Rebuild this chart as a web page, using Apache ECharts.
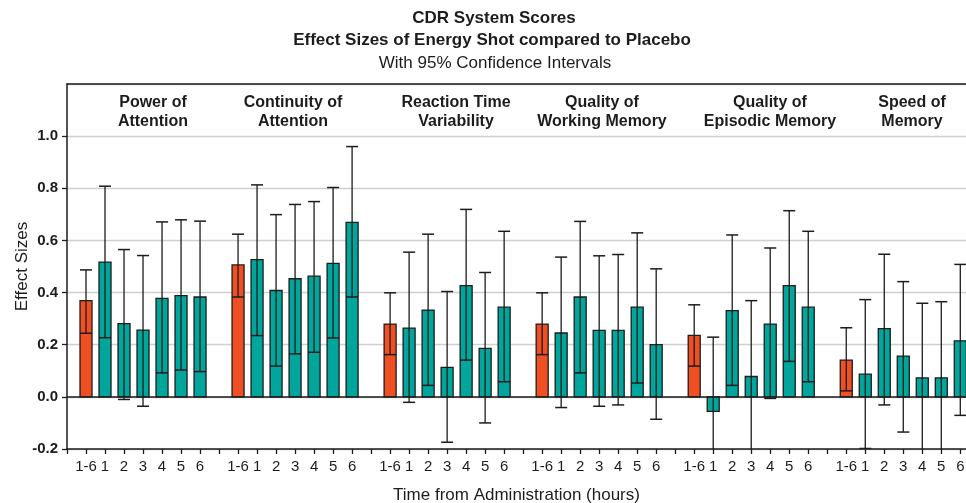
<!DOCTYPE html>
<html><head><meta charset="utf-8">
<script src="https://cdn.jsdelivr.net/npm/echarts@6/dist/echarts.min.js"></script>
<style>html,body{margin:0;padding:0;background:#fff}#c{width:966px;height:503px}</style>
</head><body><div id="c"></div>
<script>
// ---- data ----
const timeLabels = ['1-6', '1', '2', '3', '4', '5', '6'];
const groupNames = ['Power of\nAttention', 'Continuity of\nAttention', 'Reaction Time\nVariability',
  'Quality of\nWorking Memory', 'Quality of\nEpisodic Memory', 'Speed of\nMemory'];

const powerEffect   = [0.369, 0.517, 0.281, 0.256, 0.378, 0.388, 0.383];
const powerLower    = [0.244, 0.227, -0.010, -0.036, 0.092, 0.103, 0.097];
const powerUpper    = [0.487, 0.808, 0.565, 0.542, 0.671, 0.679, 0.674];

const continuityEffect = [0.506, 0.526, 0.408, 0.453, 0.463, 0.512, 0.669];
const continuityLower  = [0.383, 0.235, 0.118, 0.165, 0.171, 0.226, 0.383];
const continuityUpper  = [0.624, 0.813, 0.699, 0.738, 0.749, 0.803, 0.960];

const reactionEffect = [0.279, 0.264, 0.333, 0.113, 0.427, 0.186, 0.344];
const reactionLower  = [0.162, -0.021, 0.044, -0.174, 0.141, -0.100, 0.058];
const reactionUpper  = [0.399, 0.555, 0.624, 0.404, 0.719, 0.477, 0.635];

const workingEffect = [0.279, 0.245, 0.383, 0.255, 0.255, 0.344, 0.200];
const workingLower  = [0.162, -0.041, 0.092, -0.036, -0.031, 0.053, -0.086];
const workingUpper  = [0.399, 0.536, 0.673, 0.541, 0.546, 0.629, 0.491];

const episodicEffect = [0.236, -0.056, 0.331, 0.078, 0.279, 0.427, 0.344];
const episodicLower  = [0.118, -0.341, 0.044, -0.213, -0.006, 0.136, 0.058];
const episodicUpper  = [0.353, 0.229, 0.621, 0.369, 0.571, 0.714, 0.635];

const speedEffect = [0.141, 0.087, 0.262, 0.156, 0.073, 0.073, 0.215];
const speedLower  = [0.023, -0.198, -0.031, -0.135, -0.213, -0.219, -0.071];
const speedUpper  = [0.265, 0.373, 0.547, 0.442, 0.359, 0.365, 0.508];

const yTicks = [-0.2, 0.0, 0.2, 0.4, 0.6, 0.8, 1.0];

// ---- build ----
const effects = [powerEffect, continuityEffect, reactionEffect, workingEffect, episodicEffect, speedEffect];
const lowers = [powerLower, continuityLower, reactionLower, workingLower, episodicLower, speedLower];
const uppers = [powerUpper, continuityUpper, reactionUpper, workingUpper, episodicUpper, speedUpper];
const slot = timeLabels.length + 1;
const data = [];
effects.forEach((arr, g) => arr.forEach((v, i) => {
  data.push([g * slot + i + 1, v, lowers[g][i], uppers[g][i], i === 0 ? 1 : 0]);
}));
const xMax = 47.3;

const ORANGE = '#F04E23', TEAL = '#00A59B', INK = '#1c1c1c';
const FONT = '"Liberation Sans", Arial, Helvetica, sans-serif';

const chart = echarts.init(document.getElementById('c'), null, {renderer: 'canvas'});

const labelCenters = [153, 293, 456, 602, 770, 912];
const graphics = [
  {type: 'text', x: 494, y: 18, style: {text: 'CDR System Scores', font: 'bold 17px ' + FONT, fill: INK, align: 'center', verticalAlign: 'middle'}},
  {type: 'text', x: 492, y: 40, style: {text: 'Effect Sizes of Energy Shot compared to Placebo', font: 'bold 17px ' + FONT, fill: INK, align: 'center', verticalAlign: 'middle'}},
  {type: 'text', x: 495, y: 63, style: {text: 'With 95% Confidence Intervals', font: '17px ' + FONT, fill: INK, align: 'center', verticalAlign: 'middle'}}
];
groupNames.forEach((n, g) => graphics.push({
  type: 'text', x: labelCenters[g], y: 112,
  style: {text: n, font: 'bold 16px ' + FONT, fill: INK, align: 'center', verticalAlign: 'middle', lineHeight: 19}
}));

chart.setOption({
  animation: false,
  backgroundColor: '#fff',
  grid: {left: 67, right: 0, top: 84, bottom: 54, containLabel: false, outerBoundsMode: 'none'},
  graphic: graphics,
  xAxis: [{
    type: 'value', min: 0, max: xMax, interval: 1,
    name: 'Time from Administration (hours)', nameLocation: 'middle', nameGap: 38, nameMoveOverlap: false,
    nameTextStyle: {fontFamily: FONT, fontSize: 17, color: INK},
    axisLine: {show: true, onZero: false, lineStyle: {color: INK, width: 1.5}},
    axisTick: {show: true, length: 5, lineStyle: {color: INK, width: 1.3}},
    axisLabel: {
      fontFamily: FONT, fontSize: 15, color: INK, margin: 10, showMaxLabel: false, showMinLabel: true,
      hideOverlap: false,
      formatter: v => {
        if (Math.abs(v - Math.round(v)) > 1e-6) return '';
        const m = Math.round(v) % slot;
        return m === 0 ? '' : timeLabels[m - 1];
      }
    },
    splitLine: {show: false}
  }, {
    type: 'value', position: 'top', min: 0, max: xMax,
    axisLine: {show: true, onZero: false, lineStyle: {color: INK, width: 1.5}},
    axisTick: {show: false}, axisLabel: {show: false}, splitLine: {show: false}
  }],
  yAxis: {
    type: 'value', min: -0.2, max: 1.2, interval: 0.2,
    name: 'Effect Sizes', nameLocation: 'middle', nameGap: 36, nameMoveOverlap: false,
    nameTextStyle: {fontFamily: FONT, fontSize: 17, color: INK},
    axisLine: {show: true, onZero: false, lineStyle: {color: INK, width: 1.5}},
    axisTick: {show: true, length: 5, lineStyle: {color: INK, width: 1.3}},
    axisLabel: {
      fontFamily: FONT, fontSize: 15, fontWeight: 'bold', color: INK, margin: 9, showMaxLabel: false,
      formatter: v => {
        const t = yTicks.find(k => Math.abs(k - v) < 1e-6);
        return t === undefined ? '' : t.toFixed(1);
      }
    },
    splitLine: {show: true, lineStyle: {color: '#cfcfcf', width: 1.3}}
  },
  series: [{
    type: 'custom',
    xAxisIndex: 0,
    data: data,
    renderItem: (params, api) => {
      const x = api.value(0), v = api.value(1), lo = api.value(2), hi = api.value(3), overall = api.value(4);
      const base = api.coord([x, 0]);
      const top = api.coord([x, v]);
      const pLo = api.coord([x, lo]);
      const pHi = api.coord([x, hi]);
      const w = 12, cw = 12;
      const cs = params.coordSys;
      return {
        type: 'group',
        clipPath: {type: 'rect', shape: {x: cs.x, y: cs.y, width: cs.width, height: cs.height}},
        children: [
          {type: 'rect', shape: {x: base[0] - w / 2, y: Math.min(top[1], base[1]), width: w, height: Math.abs(base[1] - top[1])},
            style: {fill: overall ? ORANGE : TEAL, stroke: INK, lineWidth: 1.3}},
          {type: 'line', shape: {x1: pLo[0], y1: pLo[1], x2: pHi[0], y2: pHi[1]}, style: {stroke: INK, lineWidth: 1.3}},
          {type: 'line', shape: {x1: pHi[0] - cw / 2, y1: pHi[1], x2: pHi[0] + cw / 2, y2: pHi[1]}, style: {stroke: INK, lineWidth: 1.5}},
          {type: 'line', shape: {x1: pLo[0] - cw / 2, y1: pLo[1], x2: pLo[0] + cw / 2, y2: pLo[1]}, style: {stroke: INK, lineWidth: 1.5}}
        ]
      };
    },
    markLine: {
      silent: true, symbol: ['none', 'none'], label: {show: false},
      lineStyle: {color: INK, type: 'solid', width: 1.5},
      data: [{yAxis: 0}]
    },
    z: 3
  }]
});
</script>
</body></html>
